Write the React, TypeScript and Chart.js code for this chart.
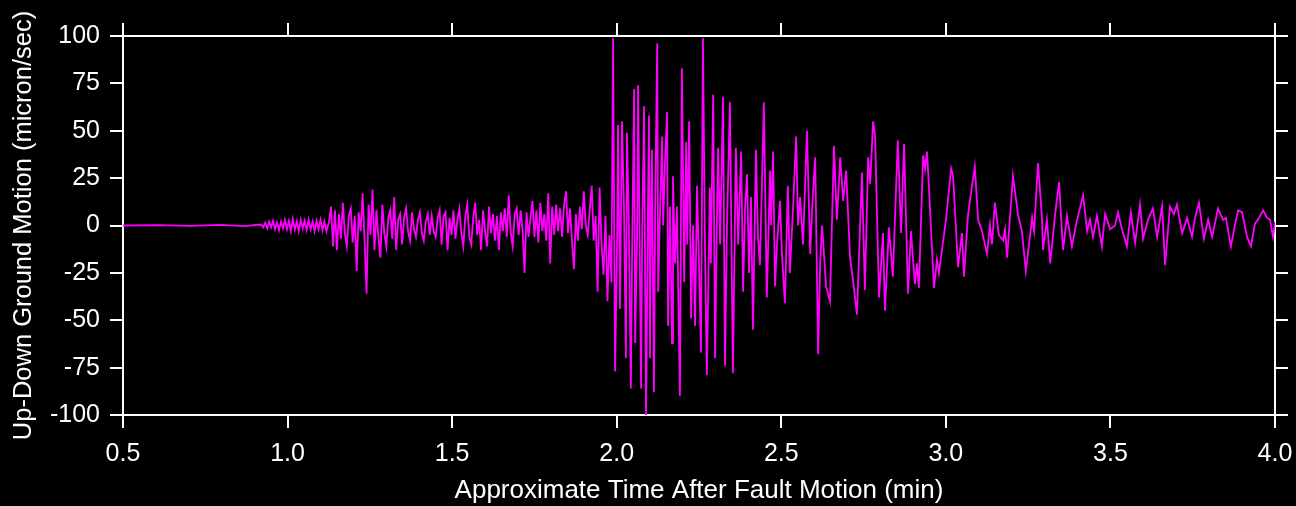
import { useEffect, useRef } from "react";
import { Chart, registerables } from "chart.js";

Chart.register(...registerables);

// ---- Data (time in minutes, up-down ground motion in micron/sec) ----
const quietTimes = [0.5, 0.612, 0.704, 0.795, 0.871, 0.91];
const quietValues = [0, 0.2, -0.2, 0.3, -0.3, 0.4];

// evenly sampled stretches: first sample time and sample spacing (min)
const onsetStart = 0.92;
const onsetStep = 0.006;
const onsetValues = [0.5, -1, 1.5, -1.5, 2, -1, 2.5, -2, 1.5, -2.5, 2, -1.5, 3, -2, 2.5, -3, 3.5, -2, 2, -3, 3, -1.5, 2.5, -2.5, 3, -2, 2, -3, 2.5, -2, 3, -2.5, 2, -3];

const pWaveStart = 1.126;
const pWaveStep = 0.006;
const pWaveValues = [
  2, 10, -11, 8, -13, 6, -7, 12, -4, -11, 5, 9, -9, 5, -24, 7, -3, 17, -8, -36,
  11, -5, 19, -13, 8, -6, -17, 11, -4, -11, 4, 8, -7, 15, -13, 3, 6, -10, 4, 9,
  -3, -8, 7, -2, -6, 3, 7, -4, -8, 2, 6, -5, 5, -3, -6, 4, 8, -10, 5, 7,
  -13, 4, -5, 8, -7, 3, 9, -4, -11, 5, 11, -6, -10, 4, 12, -5, 3, -13, 8, -3,
  -11, 10, -4, 6, -8, 5, -13, 7, -3, 9, -6, 16, -4, -11, 6, 9, -5, 8, -3, -25,
  7, -6, 4, 13, -6, 8, -9, 12, -3, 6, -8, 17, -20, 10, -5, 11, -3, 9, -6, 11,
  18, -4, 9, -8, -23, 6, -8, 10, -2, 18, 0, -5, 8, 21, -8, 5, -35, 20, -10, -26,
  5, -40, -5, -30,
];

const sWaveTimes = [1.989, 1.995, 2.001, 2.004, 2.01, 2.016, 2.022, 2.028, 2.031, 2.037, 2.043, 2.047, 2.053, 2.056, 2.062, 2.065, 2.074, 2.077, 2.083, 2.089, 2.095, 2.098, 2.101, 2.104, 2.107, 2.113, 2.117, 2.123, 2.126, 2.132, 2.138, 2.141, 2.147, 2.153, 2.156, 2.162, 2.168, 2.171, 2.177, 2.183, 2.192, 2.198, 2.205, 2.211, 2.214, 2.22, 2.226, 2.232, 2.238, 2.244, 2.25, 2.256, 2.262, 2.268, 2.274, 2.283, 2.286, 2.293, 2.299, 2.305, 2.308, 2.314, 2.323, 2.329, 2.335, 2.344, 2.353, 2.362, 2.369, 2.378, 2.384, 2.39, 2.396, 2.402, 2.408, 2.414, 2.423, 2.429, 2.435, 2.441, 2.447, 2.456, 2.466, 2.469, 2.475, 2.481, 2.487, 2.496, 2.502, 2.511, 2.52, 2.526, 2.536, 2.545, 2.551, 2.557, 2.566, 2.578, 2.588, 2.594, 2.603];
const sWaveValues = [99, -77, -10, 53, -44, 55, 10, -70, 49, 0, -86, -10, 72, -62, -5, 74, -86, -10, 63, -100, 10, 58, -70, 0, 40, -88, 10, 96, -35, 10, 47, 0, 35, 60, -53, 10, -62, 26, -20, 10, -90, 83, -30, 44, -10, 55, -49, 0, -53, 21, -20, -67, 99, -10, -79, 20, -20, 69, -70, 10, 41, -10, 68, -74, 0, 65, -78, 41, -10, 39, -35, 10, 27, -25, 15, -55, 40, -5, -21, 20, 65, -38, 29, 0, 39, -32, -10, 13, -15, -41, 21, -25, 10, 47, 0, 15, -10, 50, -15, 10, 36];

const surfaceTimes = [2.612, 2.618, 2.624, 2.636, 2.648, 2.66, 2.669, 2.679, 2.688, 2.697, 2.709, 2.718, 2.73, 2.745, 2.754, 2.764, 2.77, 2.779, 2.785, 2.797, 2.809, 2.815, 2.827, 2.839, 2.854, 2.864, 2.873, 2.885, 2.894, 2.906, 2.912, 2.918, 2.931, 2.937, 2.943, 2.964, 2.973, 2.979];
const surfaceValues = [-68, -20, 0, -32, -40, 42, 3, 36, 13, 29, -17, -29, -47, 28, -34, 36, 22, 55, 47, -38, -4, -45, -1, -27, 45, -4, 43, -36, -3, -31, -20, -33, 37, 30, 39, -33, -18, -25];

const codaTimes = [3.001, 3.016, 3.022, 3.037, 3.049, 3.055, 3.067, 3.073, 3.088, 3.098, 3.11, 3.125, 3.134, 3.14, 3.149, 3.161, 3.174, 3.18, 3.186, 3.204, 3.219, 3.231, 3.243, 3.262, 3.268, 3.28, 3.292, 3.295, 3.307, 3.317, 3.332, 3.344, 3.356, 3.368, 3.383, 3.396, 3.417, 3.429, 3.438, 3.447, 3.459, 3.474, 3.484, 3.499, 3.514, 3.523, 3.535, 3.55, 3.562, 3.575, 3.59, 3.599, 3.614, 3.629, 3.642, 3.657, 3.666, 3.681, 3.693, 3.702, 3.718, 3.733, 3.748, 3.757, 3.769, 3.784, 3.797, 3.809, 3.827, 3.842, 3.851, 3.866, 3.879, 3.888, 3.9, 3.915, 3.927, 3.939, 3.948, 3.964, 3.976, 3.985, 3.994, 4.0];
const codaValues = [4, 30, 26, -22, -4, -27, 5, 13, 31, 3, -3, -15, 0, -10, 12, -5, -8, -2, -17, 26, 6, -3, -24, 4, -3, 33, 4, -13, 3, -20, 6, 23, -13, 5, -11, 1, 16, -3, 3, -6, 5, -11, 6, -2, 0, 7, -2, -11, 7, -9, 11, -7, 3, 9, -6, 10, -21, 10, 6, 11, -4, 4, -6, 4, 12, -7, 3, -6, 9, 3, 4, -11, 1, 8, 7, -6, -11, 1, 3, 8, 4, 3, -6, 2];

const xTickLabels = ["0.5", "1.0", "1.5", "2.0", "2.5", "3.0", "3.5", "4.0"];
const yTickValues = [-100, -75, -50, -25, 0, 25, 50, 75, 100];

const X_TITLE = "Approximate Time After Fault Motion (min)";
const Y_TITLE = "Up-Down Ground Motion (micron/sec)";

const FONT = '"Liberation Sans", Arial, Helvetica, sans-serif';
const WHITE = "#ffffff";
const TRACE = "#ff00ff";

export default function App() {
  const canvasRef = useRef<HTMLCanvasElement | null>(null);

  useEffect(() => {
    document.body.style.margin = "0";
    document.body.style.background = "#000";
    const canvas = canvasRef.current;
    if (!canvas) return;

    const points: { x: number; y: number }[] = [];
    quietTimes.forEach((t, i) => points.push({ x: t, y: quietValues[i] }));
    onsetValues.forEach((v, i) => points.push({ x: onsetStart + i * onsetStep, y: v }));
    pWaveValues.forEach((v, i) => points.push({ x: pWaveStart + i * pWaveStep, y: v }));
    sWaveTimes.forEach((t, i) => points.push({ x: t, y: sWaveValues[i] }));
    surfaceTimes.forEach((t, i) => points.push({ x: t, y: surfaceValues[i] }));
    codaTimes.forEach((t, i) => points.push({ x: t, y: codaValues[i] }));

    const xMin = parseFloat(xTickLabels[0]);
    const xMax = parseFloat(xTickLabels[xTickLabels.length - 1]);
    const yMin = yTickValues[0];
    const yMax = yTickValues[yTickValues.length - 1];

    const gridCommon = {
      drawOnChartArea: false,
      drawTicks: true,
      tickLength: 13,
      color: WHITE,
      lineWidth: 2,
    };
    const borderCommon = { display: true, color: WHITE, width: 2 };
    const xTicks = (s: any) => {
      s.ticks = xTickLabels.map((l) => ({ value: parseFloat(l) }));
    };
    const yTicks = (s: any) => {
      s.ticks = yTickValues.map((v) => ({ value: v }));
    };

    const chart = new Chart(canvas, {
      type: "line",
      data: {
        datasets: [
          {
            data: points,
            borderColor: TRACE,
            borderWidth: 1.8,
            pointRadius: 0,
            tension: 0,
            fill: false,
          },
        ],
      },
      options: {
        animation: false,
        responsive: false,
        devicePixelRatio: 1,
        events: [],
        layout: { padding: 0 },
        plugins: { legend: { display: false }, tooltip: { enabled: false } },
        scales: {
          x: {
            type: "linear",
            position: "bottom",
            min: xMin,
            max: xMax,
            afterBuildTicks: xTicks,
            ticks: {
              color: WHITE,
              padding: 11,
              font: { family: FONT, size: 25 },
              callback: (v: any) => Number(v).toFixed(1),
              maxRotation: 0,
              autoSkip: false,
            },
            grid: gridCommon,
            border: borderCommon,
            title: {
              display: true,
              text: X_TITLE,
              color: WHITE,
              font: { family: FONT, size: 26 },
              padding: { top: 0, bottom: 0 },
            },
            afterFit: (s: any) => {
              s.height = 91;
              s.paddingLeft = 0;
              s.paddingRight = 0;
            },
          },
          x2: {
            type: "linear",
            position: "top",
            min: xMin,
            max: xMax,
            afterBuildTicks: xTicks,
            ticks: { display: false },
            grid: gridCommon,
            border: borderCommon,
            afterFit: (s: any) => {
              s.height = 36;
              s.paddingLeft = 0;
              s.paddingRight = 0;
            },
          },
          y: {
            type: "linear",
            position: "left",
            min: yMin,
            max: yMax,
            afterBuildTicks: yTicks,
            ticks: {
              color: WHITE,
              padding: 10,
              font: { family: FONT, size: 25 },
              autoSkip: false,
            },
            grid: gridCommon,
            border: borderCommon,
            title: {
              display: true,
              text: Y_TITLE,
              color: WHITE,
              font: { family: FONT, size: 25.5 },
              padding: { top: 9, bottom: 0 },
            },
            afterFit: (s: any) => {
              s.width = 123;
              s.paddingTop = 0;
              s.paddingBottom = 0;
            },
          },
          y2: {
            type: "linear",
            position: "right",
            min: yMin,
            max: yMax,
            afterBuildTicks: yTicks,
            ticks: { display: false },
            grid: gridCommon,
            border: borderCommon,
            afterFit: (s: any) => {
              s.width = 21;
              s.paddingTop = 0;
              s.paddingBottom = 0;
            },
          },
        },
      },
    } as any);

    return () => chart.destroy();
  }, []);

  return (
    <div style={{ width: 1296, height: 506, background: "#000" }}>
      <canvas ref={canvasRef} width={1296} height={506} style={{ display: "block" }} />
    </div>
  );
}
